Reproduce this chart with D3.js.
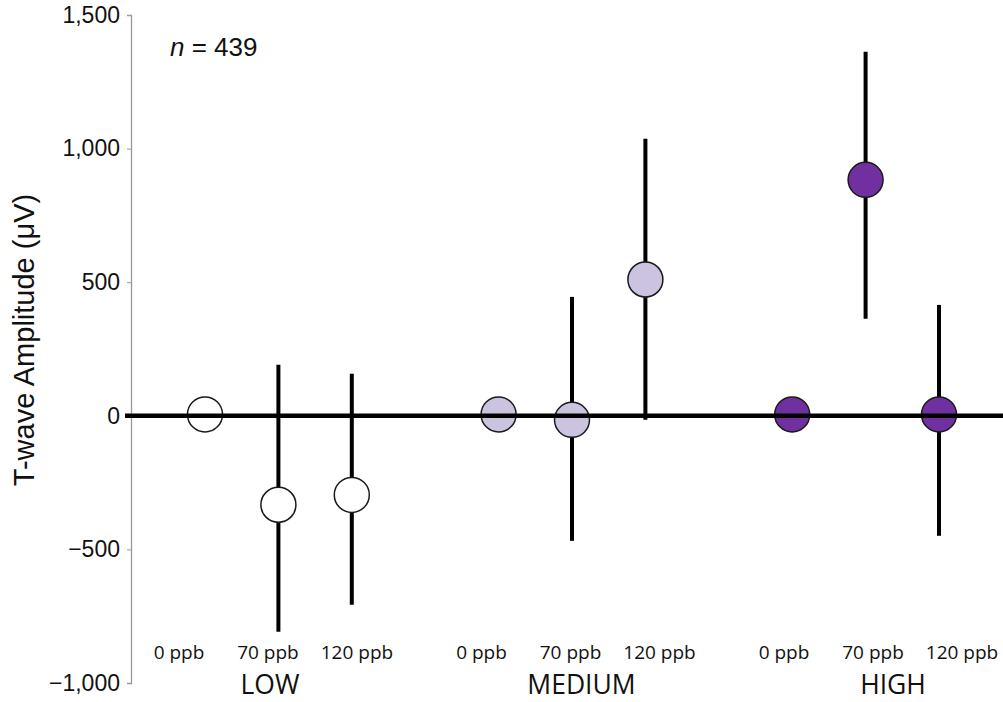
<!DOCTYPE html>
<html>
<head>
<meta charset="utf-8">
<script src="https://cdn.jsdelivr.net/npm/d3@7"></script>
<style>
  body { margin: 0; background: #fff; }
  svg { display: block; }
</style>
</head>
<body>
<svg id="chart"></svg>
<script>
// data
const groups = ["LOW", "MEDIUM", "HIGH"];
const doses = ["0 ppb", "70 ppb", "120 ppb"];
const groupColors = ["#ffffff", "#cbc3df", "#7030a0"];
const meanLow = [5, -333, -296];
const meanMedium = [5, -15, 510];
const meanHigh = [5, 883, 5];
const upperLow = [null, 191, 157];
const upperMedium = [null, 445, 1037];
const upperHigh = [null, 1362, 415];
const lowerLow = [null, -808, -707];
const lowerMedium = [null, -468, -15];
const lowerHigh = [null, 363, -449];
const yTicks = [-1000, -500, 0, 500, 1000, 1500];
const sampleSize = 439;

const W = 1003, H = 702;
const svg = d3.select("#chart").attr("width", W).attr("height", H);

const means = [meanLow, meanMedium, meanHigh];
const uppers = [upperLow, upperMedium, upperHigh];
const lowers = [lowerLow, lowerMedium, lowerHigh];

// flatten into one row per point; slot leaves a gap between groups
const points = [];
groups.forEach((g, gi) => {
  doses.forEach((d, di) => {
    points.push({
      group: gi, dose: di, slot: gi * 4 + di,
      mean: means[gi][di], hi: uppers[gi][di], lo: lowers[gi][di]
    });
  });
});

const y = d3.scaleLinear().domain([-1000, 1500]).range([683, 15]);
const x = d3.scaleLinear().domain([0, 10]).range([205, 939]);
// dose labels sit on their own grid under the points (group step = 3.4 dose steps)
const labelX = d3.scaleLinear().domain([0, 8.8]).range([179, 962]);
const groupX = d3.scaleLinear().domain([0, 2]).range([270, 893]);

const fmt = v => (v < 0 ? "\u2212" : "") + d3.format(",")(Math.abs(v));

// y axis
const yAxis = svg.append("g")
  .attr("transform", "translate(131,0)")
  .call(d3.axisLeft(y).tickValues(yTicks).tickFormat(fmt).tickSize(4).tickPadding(7));
yAxis.select(".domain").attr("stroke", "#999").attr("stroke-width", 1.3);
yAxis.selectAll(".tick line").attr("stroke", "#999");
yAxis.selectAll(".tick text")
  .attr("fill", "#111")
  .style("font-family", "'Liberation Sans', Arial, sans-serif")
  .style("font-size", "23px");

svg.append("text")
  .attr("transform", "translate(34,340) rotate(-90)")
  .attr("text-anchor", "middle")
  .style("font-family", "'Liberation Sans', Arial, sans-serif")
  .style("font-size", "29px")
  .attr("fill", "#111")
  .text("T-wave Amplitude (\u03bcV)");

const nText = svg.append("text")
  .attr("x", 170).attr("y", 56)
  .style("font-family", "'Liberation Sans', Arial, sans-serif")
  .style("font-size", "26px")
  .attr("fill", "#111");
nText.append("tspan").style("font-style", "italic").text("n");
nText.append("tspan").text(" = " + sampleSize);

// error bars
svg.append("g").selectAll("line")
  .data(points.filter(p => p.hi !== null))
  .join("line")
  .attr("x1", p => x(p.slot)).attr("x2", p => x(p.slot))
  .attr("y1", p => y(p.hi)).attr("y2", p => y(p.lo))
  .attr("stroke", "#000").attr("stroke-width", 4);

// means
svg.append("g").selectAll("circle")
  .data(points)
  .join("circle")
  .attr("cx", p => x(p.slot)).attr("cy", p => y(p.mean))
  .attr("r", 17.5)
  .attr("fill", p => groupColors[p.group])
  .attr("stroke", "#1a1a1a").attr("stroke-width", 1.5);

// zero reference line drawn on top
svg.append("line")
  .attr("x1", 125).attr("x2", W)
  .attr("y1", y(0)).attr("y2", y(0))
  .attr("stroke", "#000").attr("stroke-width", 4.5);

// dose labels
svg.append("g").selectAll("text")
  .data(points)
  .join("text")
  .attr("x", p => labelX(p.group * 3.4 + p.dose))
  .attr("y", 659)
  .attr("text-anchor", "middle")
  .style("font-family", "'Open Sans', sans-serif")
  .style("font-size", "19px")
  .attr("fill", "#111")
  .text(p => doses[p.dose]);

// group labels
svg.append("g").selectAll("text")
  .data(groups)
  .join("text")
  .attr("x", (g, i) => groupX(i))
  .attr("y", 694)
  .attr("text-anchor", "middle")
  .style("font-family", "'Open Sans', sans-serif")
  .style("font-size", "26.5px")
  .attr("fill", "#111")
  .text(g => g);
</script>
</body>
</html>
